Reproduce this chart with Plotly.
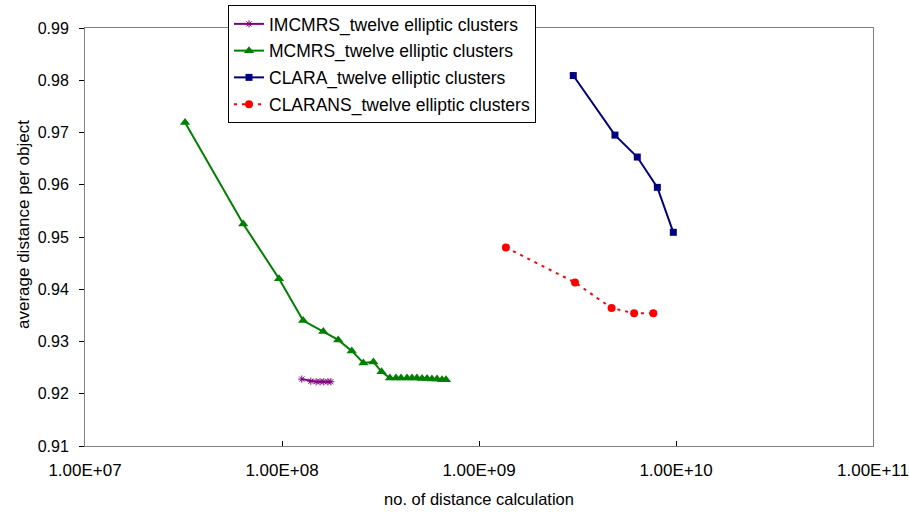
import plotly.graph_objects as go

# ---- data ----
imcmrs_x = [1.26e8, 1.40e8, 1.49e8, 1.56e8, 1.63e8, 1.71e8, 1.77e8]
imcmrs_y = [0.9228, 0.9224, 0.9223, 0.9223, 0.9223, 0.9223, 0.9223]

mcmrs_x = [3.22e7, 6.36e7, 9.66e7, 1.28e8, 1.62e8, 1.93e8, 2.26e8, 2.59e8, 2.91e8,
           3.20e8, 3.53e8, 3.79e8, 4.02e8, 4.31e8, 4.57e8, 4.84e8, 5.14e8, 5.45e8,
           5.77e8, 6.12e8, 6.49e8, 6.80e8]
mcmrs_y = [0.9719, 0.9525, 0.9420, 0.9340, 0.9319, 0.9303, 0.9282, 0.9259, 0.9261,
           0.9242, 0.9230, 0.9230, 0.9230, 0.9230, 0.9230, 0.9230, 0.9229, 0.9229,
           0.9228, 0.9228, 0.9227, 0.9227]

clara_x = [3.01e9, 4.90e9, 6.36e9, 8.04e9, 9.69e9]
clara_y = [0.9809, 0.9695, 0.9653, 0.9595, 0.9509]

clarans_x = [1.37e9, 3.07e9, 4.71e9, 6.13e9, 7.67e9]
clarans_y = [0.9480, 0.9413, 0.9364, 0.9354, 0.9354]

series_names = ["IMCMRS_twelve elliptic clusters", "MCMRS_twelve elliptic clusters",
                "CLARA_twelve elliptic clusters", "CLARANS_twelve elliptic clusters"]

x_tick_vals = [1e7, 1e8, 1e9, 1e10, 1e11]
x_tick_text = ["1.00E+07", "1.00E+08", "1.00E+09", "1.00E+10", "1.00E+11"]
y_tick_vals = [0.91, 0.92, 0.93, 0.94, 0.95, 0.96, 0.97, 0.98, 0.99]
y_tick_text = ["0.91", "0.92", "0.93", "0.94", "0.95", "0.96", "0.97", "0.98", "0.99"]

x_title = "no. of distance calculation"
y_title = "average distance per object"

FONT = "Liberation Sans, Arial, sans-serif"

fig = go.Figure()
fig.add_trace(go.Scatter(
    x=imcmrs_x, y=imcmrs_y, name=series_names[0], mode="lines+markers",
    line=dict(color="#800080", width=2),
    marker=dict(symbol="asterisk-open", size=6, color="#800080", line=dict(color="#800080", width=1)),
    legendgroup="a"))
fig.add_trace(go.Scatter(
    x=mcmrs_x, y=mcmrs_y, name=series_names[1], mode="lines+markers",
    line=dict(color="#008000", width=2),
    marker=dict(symbol="triangle-up", size=9, color="#008000"),
    legendgroup="b"))
fig.add_trace(go.Scatter(
    x=clara_x, y=clara_y, name=series_names[2], mode="lines+markers",
    line=dict(color="#000080", width=2),
    marker=dict(symbol="square", size=7, color="#000080"),
    legendgroup="c"))
fig.add_trace(go.Scatter(
    x=clarans_x, y=clarans_y, name=series_names[3], mode="lines+markers",
    line=dict(color="#FF0000", width=2, dash="3px,5px"),
    marker=dict(symbol="circle", size=8, color="#FF0000"),
    legendgroup="d"))

fig.update_layout(
    width=909, height=512,
    margin=dict(l=85, r=36, t=28, b=66, autoexpand=False),
    paper_bgcolor="white", plot_bgcolor="white",
    font=dict(family=FONT, color="black", size=16),
    showlegend=True,
    legend=dict(
        xref="container", yref="container",
        x=228 / 909, y=1 - 5 / 512, xanchor="left", yanchor="top",
        bgcolor="white", bordercolor="black", borderwidth=1,
        font=dict(family=FONT, size=17.5, color="black"),
        tracegroupgap=1,
    ),
    xaxis=dict(
        type="log", range=[7, 11], automargin=False,
        tickvals=x_tick_vals, ticktext=x_tick_text,
        ticks="inside", ticklen=5, tickcolor="black",
        ticklabelstandoff=9, ticklabeloverflow="allow",
        showgrid=False, zeroline=False,
        showline=True, linecolor="#808080", linewidth=1, mirror=True,
        tickfont=dict(family=FONT, size=17),
        title=dict(text=x_title, font=dict(family=FONT, size=16.5), standoff=14),
    ),
    yaxis=dict(
        range=[0.91, 0.99], automargin=False,
        tickvals=y_tick_vals, ticktext=y_tick_text,
        ticks="outside", ticklen=5, tickcolor="black",
        ticklabelstandoff=7, ticklabeloverflow="allow",
        showgrid=False, zeroline=False,
        showline=True, linecolor="#808080", linewidth=1, mirror=True,
        tickfont=dict(family=FONT, size=16),
    ),
    annotations=[dict(
        text=y_title, textangle=-90, showarrow=False,
        xref="paper", yref="paper", x=(24 - 85) / 788, y=(446 - 225) / 418,
        xanchor="center", yanchor="middle",
        font=dict(family=FONT, size=17, color="black"),
    )],
)

fig.write_html("out.html")
